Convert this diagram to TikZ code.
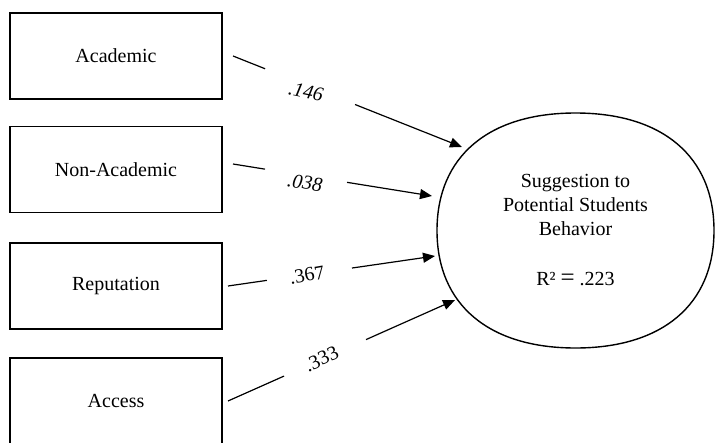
\documentclass[tikz,border=0pt]{standalone}
\usepackage{fontspec}
\setmainfont{Liberation Serif}
\usetikzlibrary{arrows.meta,shapes.geometric,calc}
\tikzset{
  box/.style={draw, line width=1.4pt, minimum width=212pt, minimum height=86pt, inner sep=0pt, outer sep=0pt, font=\fontsize{20}{24}\selectfont},
  seg/.style={line width=1.2pt},
  path/.style={line width=1.2pt, -{Triangle[length=12pt,width=10pt]}},
  lab/.style={inner sep=0pt, font=\fontsize{20}{24}\selectfont},
}
\begin{document}
\begin{tikzpicture}[x=1pt,y=-1pt]
\useasboundingbox (0,0) rectangle (715,442);
\node[box] (acad) at (116,56) {Academic};
\node[box] (non) at (116,169.5) {Non-Academic};
\node[box] (rep) at (116,286) {Reputation};
\node[box] (acc) at (116,401) {Access};
\node[ellipse, draw=none, minimum width=277pt, minimum height=235pt, inner sep=0pt, outer sep=0pt, align=center, font=\fontsize{20}{24}\selectfont] (out) at (575.5,230.5)
  {Suggestion to\\Potential Students\\Behavior\\[26pt]R² {\fontsize{25}{24}\selectfont =} .223};
\draw[line width=1.4pt] (out.east)
  .. controls +(0pt,74pt) and +(87pt,0pt) .. (out.north)
  .. controls +(-87pt,0pt) and +(0pt,74pt) .. (out.west)
  .. controls +(0pt,-74pt) and +(-87pt,0pt) .. (out.south)
  .. controls +(87pt,0pt) and +(0pt,-74pt) .. (out.east) -- cycle;
\coordinate (s1) at ([xshift=11pt]acad.east);
\coordinate (s2) at ([xshift=11pt,yshift=5.5pt]non.east);
\coordinate (s3) at ([xshift=6pt]rep.east);
\coordinate (s4) at ([xshift=6pt]acc.east);
\coordinate (t1) at (462,147);
\coordinate (t2) at (432,196);
\coordinate (t3) at (435,256);
\coordinate (t4) at (455,300);
\draw[seg] (s1) -- ($(s1)!0.14!(t1)$);
\draw[path] ($(s1)!0.533!(t1)$) -- (t1);
\draw[seg] (s2) -- ($(s2)!0.161!(t2)$);
\draw[path] ($(s2)!0.573!(t2)$) -- (t2);
\draw[seg] (s3) -- ($(s3)!0.188!(t3)$);
\draw[path] ($(s3)!0.599!(t3)$) -- (t3);
\draw[seg] (s4) -- ($(s4)!0.247!(t4)$);
\draw[path] ($(s4)!0.608!(t4)$) -- (t4);
\node[lab, rotate=-12] (l1) at (306,92) {\textit{.146}};
\node[lab, rotate=-8.5] (l2) at (305,182.5) {\textit{.038}};
\node[lab, rotate=10] (l3) at (307,275) {.367};
\node[lab, rotate=25] (l4) at (321.5,359) {.333};
\end{tikzpicture}
\end{document}
